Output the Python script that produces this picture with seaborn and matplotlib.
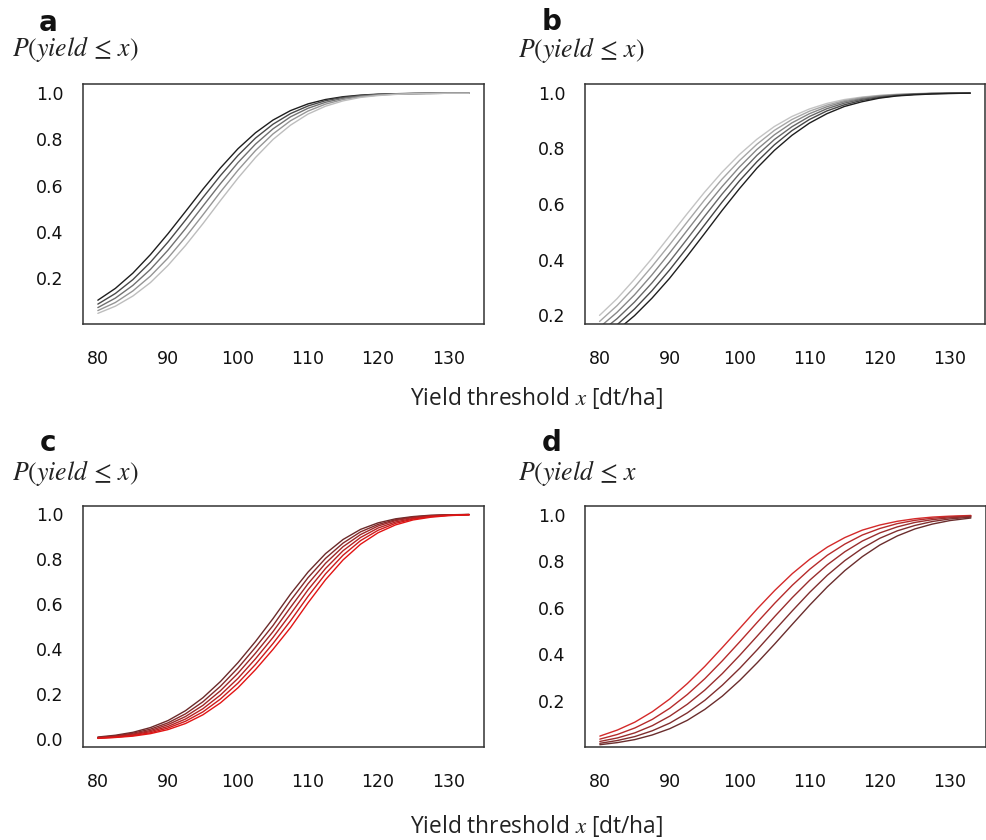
import matplotlib
matplotlib.use("Agg")
import matplotlib.pyplot as plt
import pandas as pd
import seaborn as sns

# ---------------- data ----------------
x_vals = [80, 82.5, 85, 87.5, 90, 92.5, 95, 97.5, 100, 102.5, 105, 107.5,
          110, 112.5, 115, 117.5, 120, 122.5, 125, 127.5, 130, 133]

a1 = [0.105, 0.156, 0.222, 0.302, 0.392, 0.488, 0.585, 0.677, 0.760, 0.829, 0.884,
      0.925, 0.954, 0.973, 0.985, 0.992, 0.996, 0.998, 0.999, 1.000, 1.000, 1.000]
a2 = [0.088, 0.134, 0.194, 0.269, 0.356, 0.451, 0.549, 0.644, 0.731, 0.806, 0.866,
      0.912, 0.945, 0.968, 0.982, 0.990, 0.995, 0.998, 0.999, 1.000, 1.000, 1.000]
a3 = [0.073, 0.114, 0.169, 0.238, 0.321, 0.414, 0.512, 0.609, 0.700, 0.780, 0.846,
      0.898, 0.935, 0.961, 0.978, 0.988, 0.994, 0.997, 0.999, 0.999, 1.000, 1.000]
a4 = [0.060, 0.095, 0.145, 0.209, 0.287, 0.377, 0.474, 0.573, 0.667, 0.752, 0.824,
      0.881, 0.923, 0.953, 0.973, 0.985, 0.992, 0.996, 0.998, 0.999, 1.000, 1.000]
a5 = [0.048, 0.079, 0.123, 0.181, 0.255, 0.341, 0.436, 0.536, 0.633, 0.722, 0.800,
      0.862, 0.910, 0.944, 0.967, 0.982, 0.990, 0.995, 0.998, 0.999, 1.000, 1.000]

b1 = [0.199, 0.259, 0.329, 0.404, 0.484, 0.564, 0.642, 0.714, 0.778, 0.833, 0.879,
      0.915, 0.942, 0.962, 0.976, 0.985, 0.991, 0.995, 0.997, 0.999, 0.999, 1.000]
b2 = [0.177, 0.234, 0.301, 0.375, 0.453, 0.534, 0.614, 0.689, 0.756, 0.815, 0.865,
      0.904, 0.934, 0.956, 0.972, 0.983, 0.990, 0.994, 0.997, 0.998, 0.999, 1.000]
b3 = [0.156, 0.210, 0.273, 0.345, 0.423, 0.504, 0.585, 0.662, 0.733, 0.796, 0.849,
      0.892, 0.925, 0.950, 0.968, 0.980, 0.988, 0.993, 0.996, 0.998, 0.999, 1.000]
b4 = [0.137, 0.187, 0.247, 0.316, 0.392, 0.473, 0.555, 0.635, 0.709, 0.775, 0.832,
      0.878, 0.915, 0.943, 0.963, 0.977, 0.986, 0.992, 0.995, 0.998, 0.999, 0.999]
b5 = [0.119, 0.165, 0.222, 0.288, 0.362, 0.442, 0.524, 0.606, 0.683, 0.752, 0.813,
      0.864, 0.904, 0.935, 0.957, 0.973, 0.983, 0.990, 0.995, 0.997, 0.998, 0.999]
b6 = [0.103, 0.145, 0.198, 0.261, 0.332, 0.411, 0.493, 0.576, 0.655, 0.729, 0.793,
      0.847, 0.891, 0.925, 0.951, 0.968, 0.981, 0.989, 0.993, 0.996, 0.998, 0.999]

c1 = [0.009, 0.017, 0.030, 0.051, 0.082, 0.126, 0.184, 0.256, 0.340, 0.434, 0.536,
      0.645, 0.743, 0.825, 0.888, 0.933, 0.962, 0.980, 0.990, 0.996, 0.998, 0.999]
c2 = [0.007, 0.014, 0.026, 0.044, 0.072, 0.112, 0.166, 0.235, 0.316, 0.408, 0.505,
      0.616, 0.718, 0.804, 0.872, 0.922, 0.955, 0.976, 0.988, 0.994, 0.998, 0.999]
c3 = [0.006, 0.012, 0.022, 0.038, 0.064, 0.100, 0.150, 0.215, 0.293, 0.382, 0.478,
      0.586, 0.691, 0.782, 0.856, 0.910, 0.948, 0.972, 0.986, 0.993, 0.997, 0.999]
c4 = [0.005, 0.010, 0.019, 0.033, 0.056, 0.089, 0.135, 0.196, 0.270, 0.357, 0.452,
      0.556, 0.664, 0.759, 0.838, 0.897, 0.939, 0.966, 0.982, 0.992, 0.996, 0.999]
c5 = [0.004, 0.008, 0.016, 0.028, 0.049, 0.079, 0.121, 0.178, 0.249, 0.332, 0.425,
      0.526, 0.635, 0.735, 0.818, 0.883, 0.929, 0.960, 0.979, 0.990, 0.995, 0.998]
c6 = [0.003, 0.007, 0.013, 0.024, 0.042, 0.069, 0.108, 0.161, 0.228, 0.309, 0.399,
      0.496, 0.606, 0.709, 0.797, 0.867, 0.918, 0.953, 0.975, 0.987, 0.994, 0.998]

d1 = [0.049, 0.075, 0.109, 0.154, 0.209, 0.275, 0.349, 0.430, 0.513, 0.597, 0.676,
      0.748, 0.810, 0.862, 0.903, 0.935, 0.957, 0.973, 0.984, 0.991, 0.995, 0.998]
d2 = [0.036, 0.056, 0.084, 0.121, 0.169, 0.228, 0.296, 0.373, 0.455, 0.539, 0.621,
      0.698, 0.767, 0.827, 0.875, 0.914, 0.942, 0.963, 0.977, 0.986, 0.992, 0.996]
d3 = [0.026, 0.041, 0.063, 0.094, 0.135, 0.186, 0.247, 0.318, 0.397, 0.480, 0.564,
      0.645, 0.720, 0.786, 0.842, 0.888, 0.923, 0.949, 0.968, 0.980, 0.988, 0.994]
d4 = [0.018, 0.030, 0.047, 0.072, 0.105, 0.149, 0.203, 0.268, 0.341, 0.421, 0.505,
      0.588, 0.668, 0.741, 0.804, 0.857, 0.900, 0.932, 0.955, 0.972, 0.983, 0.991]
d5 = [0.012, 0.021, 0.034, 0.054, 0.081, 0.117, 0.164, 0.221, 0.289, 0.365, 0.446,
      0.530, 0.613, 0.691, 0.761, 0.821, 0.871, 0.910, 0.940, 0.961, 0.976, 0.987]

x_ticks = [80, 90, 100, 110, 120, 130]
y_ticks_a = [0.2, 0.4, 0.6, 0.8, 1.0]
y_ticks_b = [0.2, 0.4, 0.6, 0.8, 1.0]
y_ticks_c = [0.0, 0.2, 0.4, 0.6, 0.8, 1.0]
y_ticks_d = [0.2, 0.4, 0.6, 0.8, 1.0]
panel_letters = ["a", "b", "c", "d"]
y_title = r"$P(yield\,\leq\,x)$"
y_title_d = r"$P(yield\,\leq\,x$"
x_title = "Yield threshold $x$ [dt/ha]"

# ---------------- styles ----------------
colors_a = ["#1e1e1e", "#4a4a4a", "#707070", "#959595", "#bdbdbd"]
colors_b = ["#c4c4c4", "#a6a6a6", "#878787", "#676767", "#464646", "#1e1e1e"]
colors_c = ["#6b2a2a", "#842a2a", "#9d2727", "#b52222", "#cc1b1b", "#e21414"]
colors_d = ["#d42a2a", "#b62b2b", "#9a2d2d", "#802e2e", "#6a2d2d"]

sns.set_style("white")
plt.rcParams["font.family"] = ["DejaVu Sans"]
plt.rcParams["mathtext.fontset"] = "stix"

W, H = 987, 840
fig = plt.figure(figsize=(W / 100, H / 100), dpi=100)


def box(l, t, r, b):
    return [l / W, 1 - b / H, (r - l) / W, (b - t) / H]


panels = [
    (box(83, 84, 484, 324), [a1, a2, a3, a4, a5], colors_a, (0.002, 1.040), y_ticks_a),
    (box(584.7, 84, 985, 324), [b1, b2, b3, b4, b5, b6], colors_b, (0.168, 1.032), y_ticks_b),
    (box(83, 506, 484, 746.7), [c1, c2, c3, c4, c5, c6], colors_c, (-0.034, 1.037), y_ticks_c),
    (box(585, 506, 985.7, 746.7), [d1, d2, d3, d4, d5], colors_d, (0.0034, 1.0387), y_ticks_d),
]

for rect, curves, cols, ylim, yt in panels:
    ax = fig.add_axes(rect)
    names = [f"s{i}" for i in range(len(curves))]
    df = pd.DataFrame({
        "x": [xv for _ in curves for xv in x_vals],
        "y": [v for c in curves for v in c],
        "curve": [n for n, c in zip(names, curves) for _ in c],
    })
    sns.lineplot(data=df, x="x", y="y", hue="curve", hue_order=names,
                 palette=cols, legend=False, ax=ax, linewidth=1.0,
                 estimator=None)
    ax.set_xlim(77.88, 135.12)
    ax.set_ylim(*ylim)
    ax.set_xticks(x_ticks)
    ax.set_xticklabels([str(t) for t in x_ticks])
    ax.set_yticks(yt)
    ax.set_yticklabels([f"{t:.1f}" for t in yt])
    ax.set_xlabel("")
    ax.set_ylabel("")
    for s in ax.spines.values():
        s.set_visible(True)
        s.set_color("#333333")
        s.set_linewidth(1.1)
    ax.tick_params(axis="both", direction="out", length=8, width=1.1,
                   color="#333333", labelsize=12.5, labelcolor="#111111")
    ax.tick_params(axis="x", pad=11)
    ax.tick_params(axis="y", pad=6)

# panel letters
letter_pos = [(48, 30.7), (551.7, 30.5), (48, 450.7), (551.7, 450.7)]
for (lx, ly), lab in zip(letter_pos, panel_letters):
    fig.text(lx / W, 1 - ly / H, lab, fontsize=20, fontweight="bold",
             ha="center", va="baseline", color="#111111")

# y-axis titles
ytitle_pos = [(12, 56, y_title), (518, 57, y_title), (12, 479.5, y_title), (518, 480, y_title_d)]
for tx, ty, txt in ytitle_pos:
    fig.text(tx / W, 1 - ty / H, txt, fontsize=18.5, ha="left", va="baseline",
             color="#222222")

# shared x-axis titles
for ty in (405, 833):
    fig.text(537 / W, 1 - ty / H, x_title, fontsize=16.4, ha="center",
             va="baseline", family=["Open Sans", "DejaVu Sans"], color="#222222")

fig.savefig("out.png", dpi=100)
